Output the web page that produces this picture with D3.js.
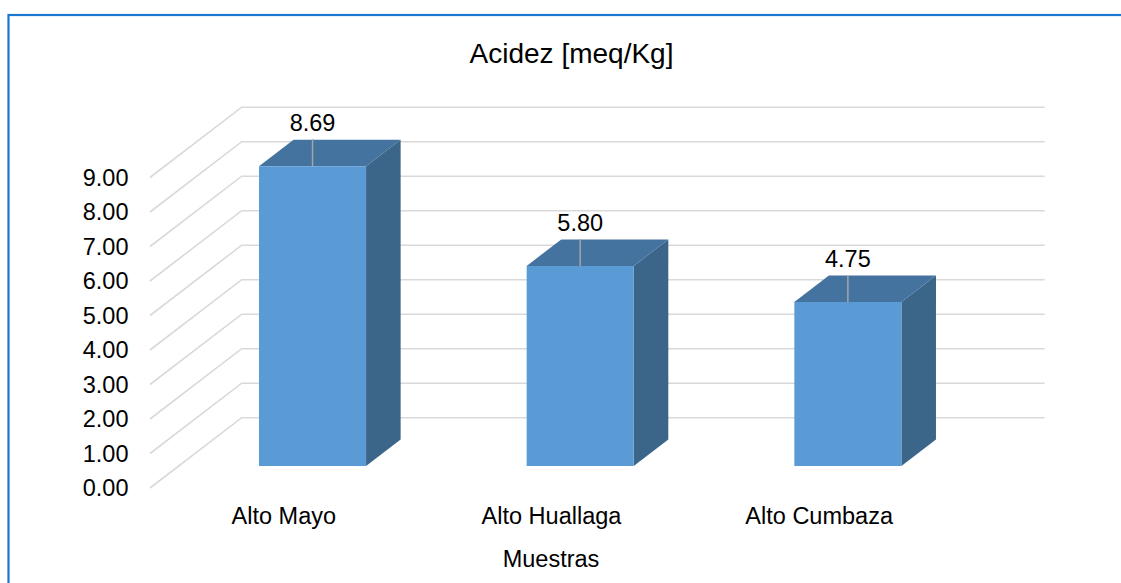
<!DOCTYPE html>
<html>
<head>
<meta charset="utf-8">
<script src="https://cdn.jsdelivr.net/npm/d3@7"></script>
<style>
  html, body { margin: 0; padding: 0; background: #ffffff; }
  svg { display: block; }
  text { font-family: "Liberation Sans", Arial, sans-serif; fill: #000000; }
</style>
</head>
<body>
<svg id="chart" width="1121" height="583"></svg>
<script>
// Acidity per sample, meq/Kg
const categories = ["Alto Mayo", "Alto Huallaga", "Alto Cumbaza"];
const values = [8.69, 5.80, 4.75];
const tickValues = [0, 1, 2, 3, 4, 5, 6, 7, 8, 9];
const titleText = "Acidez [meq/Kg]";
const axisTitle = "Muestras";

const svg = d3.select("#chart");

// Chart frame
svg.append("rect")
  .attr("x", 8.5).attr("y", 15)
  .attr("width", 1130).attr("height", 600)
  .attr("fill", "none")
  .attr("stroke", "#1b76cf")
  .attr("stroke-width", 2.2);

// Oblique 3D projection: x along the floor, depth 0 (front) .. 1 (back wall)
const floorLeft = 150, floorRight = 953, floorFront = 488;
const depthDX = 91.7, depthDY = 70.3;

const x = d3.scaleBand().domain(categories).range([0, floorRight - floorLeft]).padding(0);
const y = d3.scaleLinear().domain([0, 9]).range([0, 9 * 34.5]);

function project(px, depth, v) {
  return [floorLeft + px + depthDX * depth, floorFront - y(v) - depthDY * depth];
}

const grid = svg.append("g").attr("stroke", "#d9d9d9").attr("stroke-width", 1.6).attr("fill", "none");

// Side wall diagonals and back wall horizontals
tickValues.forEach(t => {
  const a = project(0, 0, t), b = project(0, 1, t), c = project(floorRight - floorLeft, 1, t);
  grid.append("path").attr("d", d3.line()([a, b, c]));
});

// Y axis labels
svg.append("g").selectAll("text")
  .data(tickValues).join("text")
  .attr("x", 128.5)
  .attr("y", d => project(0, 0, d)[1])
  .attr("dy", "0.35em")
  .attr("text-anchor", "end")
  .attr("font-size", 23.5)
  .text(d => d3.format(".2f")(d));

// 3D columns
const barFrac = 0.4;
const dFront = 0.313, dBack = 0.69;
const bars = svg.append("g");
categories.forEach((cat, i) => {
  const v = values[i];
  const bw = x.bandwidth() * barFrac;
  const x0 = x(cat) + (x.bandwidth() - bw) / 2;
  const x1 = x0 + bw;
  const fBL = project(x0, dFront, 0), fBR = project(x1, dFront, 0);
  const fTL = project(x0, dFront, v), fTR = project(x1, dFront, v);
  const bTL = project(x0, dBack, v), bTR = project(x1, dBack, v), bBR = project(x1, dBack, 0);
  const poly = pts => "M" + pts.map(p => p.join(",")).join("L") + "Z";
  bars.append("path").attr("d", poly([fTR, bTR, bBR, fBR])).attr("fill", "#3b6589");
  bars.append("path").attr("d", poly([fTL, bTL, bTR, fTR])).attr("fill", "#44739f");
  bars.append("path").attr("d", poly([fBL, fTL, fTR, fBR])).attr("fill", "#5b9bd5");

  // Data label with leader line
  const cx = (fTL[0] + fTR[0]) / 2;
  bars.append("line")
    .attr("x1", cx).attr("x2", cx)
    .attr("y1", fTL[1]).attr("y2", fTL[1] - 27)
    .attr("stroke", "#a6a6a6").attr("stroke-width", 1.5);
  bars.append("text")
    .attr("x", cx).attr("y", fTL[1] - 35)
    .attr("text-anchor", "middle")
    .attr("font-size", 23.5)
    .text(d3.format(".2f")(v));
});

// Category labels
svg.append("g").selectAll("text")
  .data(categories).join("text")
  .attr("x", d => floorLeft + x(d) + x.bandwidth() / 2)
  .attr("y", 524)
  .attr("text-anchor", "middle")
  .attr("font-size", 23.5)
  .text(d => d);

// Axis title
svg.append("text")
  .attr("x", 551).attr("y", 567)
  .attr("text-anchor", "middle")
  .attr("font-size", 23.5)
  .text(axisTitle);

// Chart title
svg.append("text")
  .attr("x", 571.5).attr("y", 63)
  .attr("text-anchor", "middle")
  .attr("font-size", 28)
  .text(titleText);
</script>
</body>
</html>
